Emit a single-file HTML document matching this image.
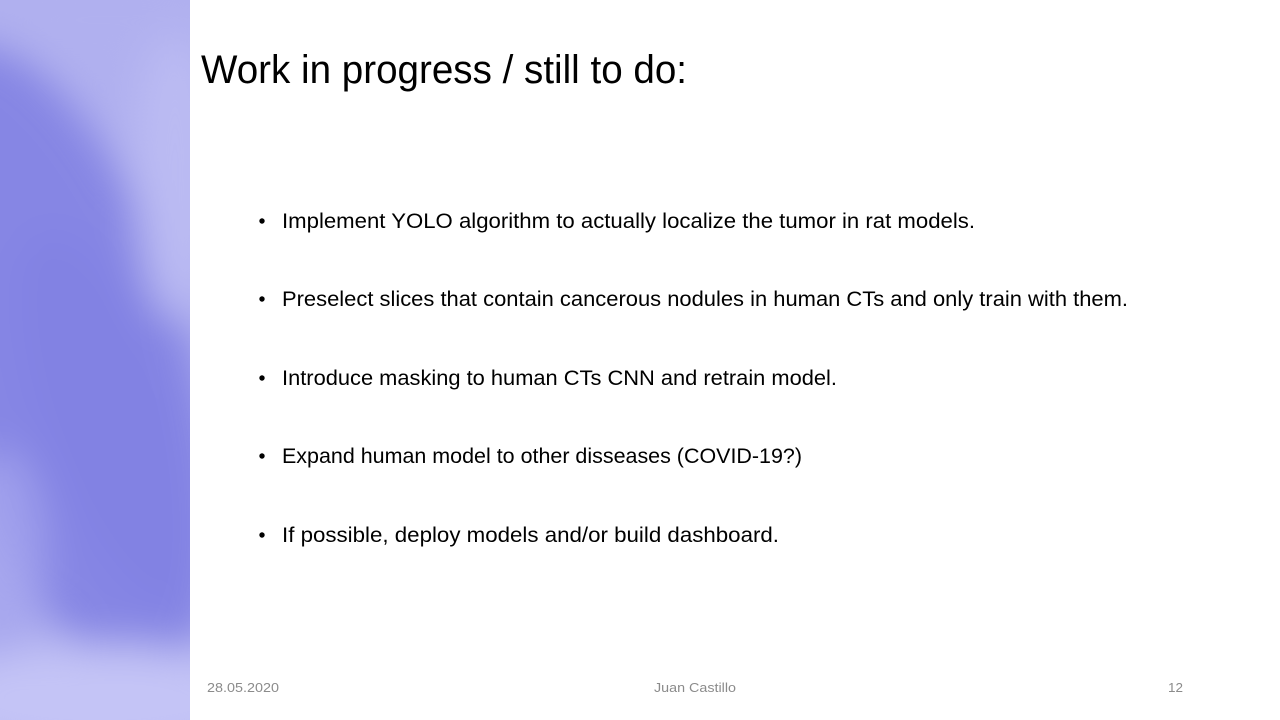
<!DOCTYPE html>
<html><head><meta charset="utf-8"><style>
html,body{margin:0;padding:0;background:#fff;width:1280px;height:720px;overflow:hidden}
svg{display:block}
text{font-family:"Liberation Sans",sans-serif}
</style></head><body>
<svg width="1280" height="720" viewBox="0 0 1280 720">
<defs>
<filter id="b" x="-50%" y="-50%" width="200%" height="200%"><feGaussianBlur stdDeviation="20"/></filter>
<clipPath id="c"><rect x="0" y="0" width="190" height="720"/></clipPath>
</defs>
<g clip-path="url(#c)">
<rect x="0" y="0" width="190" height="720" fill="#b0b0ef"/>
<g filter="url(#b)">
<ellipse cx="60" cy="360" rx="130" ry="330" fill="#8686e4" transform="rotate(-18 60 360)"/>
<ellipse cx="110" cy="420" rx="70" ry="200" fill="#8181e2" opacity="0.8" transform="rotate(-20 110 420)"/>
<ellipse cx="0" cy="560" rx="45" ry="110" fill="#a5a5ee" opacity="0.8"/>
<ellipse cx="175" cy="170" rx="40" ry="150" fill="#bdbdf3" opacity="0.9"/>
<ellipse cx="100" cy="20" rx="120" ry="30" fill="#b0b0ef" opacity="0.8"/>
<ellipse cx="100" cy="700" rx="170" ry="55" fill="#c4c4f6"/>
</g>
</g>
<text x="201" y="83" font-size="40" fill="#000" textLength="486" lengthAdjust="spacingAndGlyphs">Work in progress / still to do:</text>
<g font-size="21" fill="#000">
<g><circle cx="262" cy="221" r="2.7"/><text x="282" y="228" textLength="693" lengthAdjust="spacingAndGlyphs">Implement YOLO algorithm to actually localize the tumor in rat models.</text></g>
<g><circle cx="262" cy="299" r="2.7"/><text x="282" y="306" textLength="846" lengthAdjust="spacingAndGlyphs">Preselect slices that contain cancerous nodules in human CTs and only train with them.</text></g>
<g><circle cx="262" cy="378" r="2.7"/><text x="282" y="385" textLength="555" lengthAdjust="spacingAndGlyphs">Introduce masking to human CTs CNN and retrain model.</text></g>
<g><circle cx="262" cy="456" r="2.7"/><text x="282" y="463" textLength="520" lengthAdjust="spacingAndGlyphs">Expand human model to other disseases (COVID-19?)</text></g>
<g><circle cx="262" cy="535" r="2.7"/><text x="282" y="542" textLength="497" lengthAdjust="spacingAndGlyphs">If possible, deploy models and/or build dashboard.</text></g>
</g>
<g font-size="13" fill="#8b8b8b">
<text x="207" y="692" textLength="72" lengthAdjust="spacingAndGlyphs">28.05.2020</text>
<text x="654" y="692" textLength="82" lengthAdjust="spacingAndGlyphs">Juan Castillo</text>
<text x="1168" y="692" textLength="15" lengthAdjust="spacingAndGlyphs">12</text>
</g>
</svg>
</body></html>
